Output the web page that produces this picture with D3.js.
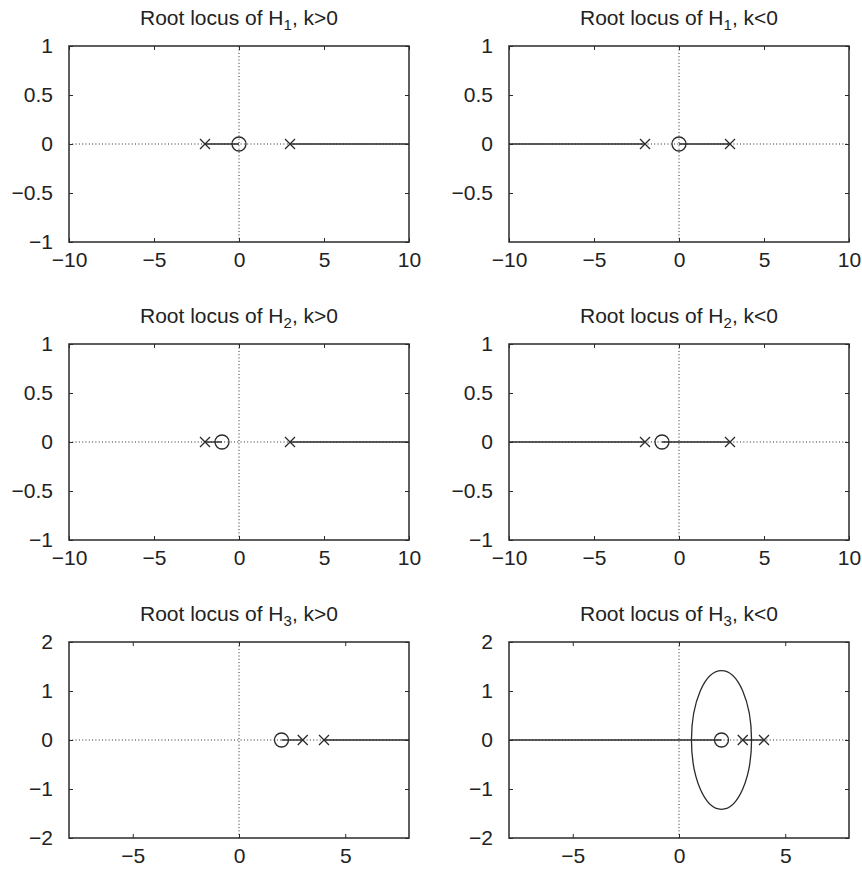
<!DOCTYPE html>
<html>
<head>
<meta charset="utf-8">
<script src="https://cdn.jsdelivr.net/npm/d3@7"></script>
<style>
  body { margin: 0; background: #fff; }
  svg { display: block; }
  .tick text { font-family: "Liberation Sans", Arial, Helvetica, sans-serif; font-size: 21px; fill: #222; }
  .tick line { stroke: #2a2a2a; stroke-width: 1; }
</style>
</head>
<body>
<svg></svg>
<script>
// Root locus panels, 3 rows x 2 columns

let width = 862,
    height = 873;

let svg = d3.select("svg")
    .attr("width", width)
    .attr("height", height);

// one entry per panel, left to right, top to bottom
let systemIndex = ["1", "1", "2", "2", "3", "3"];
let gainLabel = ["k>0", "k<0", "k>0", "k<0", "k>0", "k<0"];

let xDomains = [[-10, 10], [-10, 10], [-10, 10], [-10, 10], [-8, 8], [-8, 8]];
let yDomains = [[-1, 1], [-1, 1], [-1, 1], [-1, 1], [-2, 2], [-2, 2]];

let xTicks = [
    [-10, -5, 0, 5, 10], [-10, -5, 0, 5, 10],
    [-10, -5, 0, 5, 10], [-10, -5, 0, 5, 10],
    [-5, 0, 5], [-5, 0, 5]
];
let yTicks = [
    [-1, -0.5, 0, 0.5, 1], [-0.5, 0, 0.5, 1],
    [-1, -0.5, 0, 0.5, 1], [-1, -0.5, 0, 0.5, 1],
    [-2, -1, 0, 1, 2], [-2, -1, 0, 1, 2]
];

let poles = [[-2, 3], [-2, 3], [-2, 3], [-2, 3], [3, 4], [3, 4]];
let zeros = [[0], [0], [-1], [-1], [2], [2]];

// real-axis parts of the locus: [from, to]
let locusSegments = [
    [[-2, 0], [3, 10]],
    [[-10, -2], [0, 3]],
    [[-2, -1], [3, 10]],
    [[-10, -2], [-1, 3]],
    [[2, 3], [4, 8]],
    [[-8, 2], [3, 4]]
];

// complex part of the locus (circle around the zero)
let locusCircles = [null, null, null, null, null, { center: 2, radius: 1.414 }];

let colLeft = [69, 509],
    rowTop = [46, 344, 642],
    plotW = 340,
    plotH = 196;

let ink = "#2a2a2a";
let fontFamily = "'Liberation Sans', Arial, Helvetica, sans-serif";

let fmt = d => {
    let s = d3.format("")(d);
    return s.replace("-", "\u2212");
};

for (let i = 0; i < 6; i++) {
    let left = colLeft[i % 2],
        top = rowTop[Math.floor(i / 2)];

    let x = d3.scaleLinear().domain(xDomains[i]).range([0, plotW]);
    let y = d3.scaleLinear().domain(yDomains[i]).range([plotH, 0]);

    let g = svg.append("g").attr("transform", `translate(${left},${top})`);

    // title with subscript
    let title = g.append("text")
        .attr("x", plotW / 2)
        .attr("y", -21)
        .attr("text-anchor", "middle")
        .attr("font-family", fontFamily)
        .attr("font-size", 21)
        .attr("fill", "#222");
    title.append("tspan").text("Root locus of H");
    title.append("tspan").attr("font-size", 15).attr("dy", 5).text(systemIndex[i]);
    title.append("tspan").attr("dy", -5).text(", " + gainLabel[i]);

    // axes with inward ticks on all sides
    g.append("g")
        .attr("transform", `translate(0,${plotH})`)
        .call(d3.axisBottom(x).tickValues(xTicks[i]).tickSize(-4).tickPadding(10).tickFormat(fmt))
        .call(a => a.select(".domain").remove());
    g.append("g")
        .call(d3.axisTop(x).tickValues(xTicks[i]).tickSize(-4).tickFormat(""))
        .call(a => a.select(".domain").remove());
    g.append("g")
        .call(d3.axisLeft(y).tickValues(yTicks[i]).tickSize(-4).tickPadding(16).tickFormat(fmt))
        .call(a => a.select(".domain").remove());
    g.append("g")
        .attr("transform", `translate(${plotW},0)`)
        .call(d3.axisRight(y).tickValues(yTicks[i]).tickSize(-4).tickFormat(""))
        .call(a => a.select(".domain").remove());

    // dotted real and imaginary axes
    g.append("line")
        .attr("x1", x(xDomains[i][0])).attr("x2", x(xDomains[i][1]))
        .attr("y1", y(0)).attr("y2", y(0))
        .attr("stroke", ink).attr("stroke-width", 1)
        .attr("stroke-dasharray", "1,2.3");
    g.append("line")
        .attr("x1", x(0)).attr("x2", x(0))
        .attr("y1", y(yDomains[i][0])).attr("y2", y(yDomains[i][1]))
        .attr("stroke", ink).attr("stroke-width", 1)
        .attr("stroke-dasharray", "1,2.3");

    // solid locus branches on the real axis
    g.selectAll(".seg")
        .data(locusSegments[i])
        .enter().append("line")
        .attr("class", "seg")
        .attr("x1", d => x(d[0])).attr("x2", d => x(d[1]))
        .attr("y1", y(0)).attr("y2", y(0))
        .attr("stroke", ink).attr("stroke-width", 1.4);

    if (locusCircles[i]) {
        let c = locusCircles[i];
        g.append("ellipse")
            .attr("cx", x(c.center))
            .attr("cy", y(0))
            .attr("rx", x(c.center + c.radius) - x(c.center))
            .attr("ry", y(0) - y(c.radius))
            .attr("fill", "none")
            .attr("stroke", ink)
            .attr("stroke-width", 1.3);
    }

    // poles as crosses
    let cross = g.selectAll(".pole")
        .data(poles[i])
        .enter().append("path")
        .attr("class", "pole")
        .attr("d", d => {
            let cx = x(d), cy = y(0), s = 5;
            return `M${cx - s},${cy - s}L${cx + s},${cy + s}M${cx - s},${cy + s}L${cx + s},${cy - s}`;
        })
        .attr("stroke", ink).attr("stroke-width", 1.3).attr("fill", "none");

    // zeros as circles
    g.selectAll(".zero")
        .data(zeros[i])
        .enter().append("circle")
        .attr("class", "zero")
        .attr("cx", d => x(d)).attr("cy", y(0)).attr("r", 7)
        .attr("fill", "none").attr("stroke", ink).attr("stroke-width", 1.3);

    // frame
    g.append("rect")
        .attr("width", plotW).attr("height", plotH)
        .attr("fill", "none")
        .attr("stroke", ink)
        .attr("stroke-width", 1.5);
}
</script>
</body>
</html>
